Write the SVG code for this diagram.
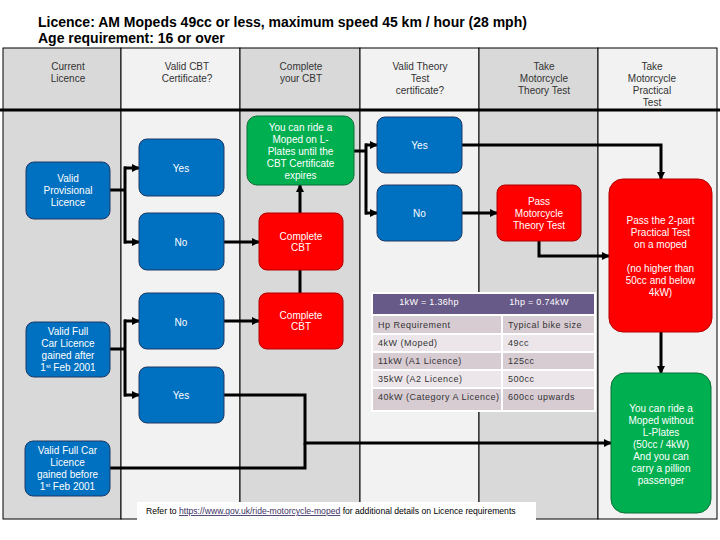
<svg xmlns="http://www.w3.org/2000/svg" width="720" height="540" viewBox="0 0 720 540">
<defs>
<style>
text{font-family:"Liberation Sans",Arial,sans-serif}
.title{font-size:14px;font-weight:bold;fill:#000}
.hd{font-size:10px;fill:#333;text-anchor:middle}
.bt{font-size:10px;fill:#fff;text-anchor:middle}
.blue{fill:#0070c0;stroke:#1f3864;stroke-width:1}
.red{fill:#ff0000;stroke:#b00000;stroke-width:1}
.green{fill:#00b050;stroke:#0a6e35;stroke-width:1}
.laneD{fill:#d9d9d9;stroke:#000;stroke-width:1}
.laneL{fill:#f2f2f2;stroke:#000;stroke-width:1}
.con{fill:none;stroke:#000;stroke-width:3}
.arr{fill:none;stroke:#000;stroke-width:3;marker-end:url(#ah)}
.tt{font-size:9px;fill:#333;letter-spacing:0.5px}
.th{font-size:9px;fill:#fff;text-anchor:middle;letter-spacing:0.3px}
.rd{fill:#d8ccd3}
.rl{fill:#ece6ea}
</style>
<marker id="ah" markerUnits="userSpaceOnUse" markerWidth="8" markerHeight="8" viewBox="0 0 8 8" refX="7" refY="4" orient="auto">
<path d="M0,0 L8,4 L0,8 z" fill="#000"/>
</marker>
</defs>
<rect width="720" height="540" fill="#fff"/>
<text class="title" x="38" y="27">Licence: AM Mopeds 49cc or less, maximum speed 45 km / hour (28 mph)</text>
<text class="title" x="38" y="43">Age requirement: 16 or over</text>

<g id="lanes">
<rect class="laneD" x="3" y="48" width="118" height="471"/>
<rect class="laneL" x="121" y="48" width="119" height="471"/>
<rect class="laneD" x="240" y="48" width="120" height="471"/>
<rect class="laneL" x="360" y="48" width="119" height="471"/>
<rect class="laneD" x="479" y="48" width="119" height="471"/>
<rect class="laneL" x="598" y="48" width="119" height="471"/>
<line x1="0" y1="110" x2="720" y2="110" stroke="#000" stroke-width="3"/>
<text class="hd" x="68" y="70">Current</text><text class="hd" x="68" y="82">Licence</text>
<text class="hd" x="187" y="70">Valid CBT</text><text class="hd" x="187" y="82">Certificate?</text>
<text class="hd" x="301" y="70">Complete</text><text class="hd" x="301" y="82">your CBT</text>
<text class="hd" x="420" y="70">Valid Theory</text><text class="hd" x="420" y="82">Test</text><text class="hd" x="420" y="94">certificate?</text>
<text class="hd" x="544" y="70">Take</text><text class="hd" x="544" y="82">Motorcycle</text><text class="hd" x="544" y="94">Theory Test</text>
<text class="hd" x="652" y="70">Take</text><text class="hd" x="652" y="82">Motorcycle</text><text class="hd" x="652" y="94">Practical</text><text class="hd" x="652" y="106">Test</text>
</g>

<g id="table">
<rect x="371" y="292" width="225" height="120" fill="#fff"/>
<rect x="373" y="294" width="221" height="20" fill="#685a88"/>
<text class="th" x="429" y="304.5">1kW = 1.36hp</text>
<text class="th" x="539" y="304.5">1hp = 0.74kW</text>
<rect class="rd" x="373" y="316" width="128" height="17"/><rect class="rd" x="503" y="316" width="91" height="17"/>
<rect class="rl" x="373" y="335" width="128" height="16"/><rect class="rl" x="503" y="335" width="91" height="16"/>
<rect class="rd" x="373" y="353" width="128" height="16"/><rect class="rd" x="503" y="353" width="91" height="16"/>
<rect class="rl" x="373" y="371" width="128" height="16"/><rect class="rl" x="503" y="371" width="91" height="16"/>
<rect class="rd" x="373" y="389" width="128" height="21"/><rect class="rd" x="503" y="389" width="91" height="21"/>
<text class="tt" x="378" y="328">Hp Requirement</text><text class="tt" x="508" y="328">Typical bike size</text>
<text class="tt" x="378" y="346">4kW (Moped)</text><text class="tt" x="508" y="346">49cc</text>
<text class="tt" x="378" y="364">11kW (A1 Licence)</text><text class="tt" x="508" y="364">125cc</text>
<text class="tt" x="378" y="382">35kW (A2 Licence)</text><text class="tt" x="508" y="382">500cc</text>
<text class="tt" x="378" y="400">40kW (Category A Licence)</text><text class="tt" x="508" y="400">600cc upwards</text>
</g>

<g id="connectors">
<path class="con" d="M110,190 H125 M125,166.5 V243.5"/>
<path class="arr" d="M124,168 H139"/>
<path class="arr" d="M124,242 H139"/>
<path class="arr" d="M224,242 H259"/>
<path class="arr" d="M300,213 V185"/>
<path class="con" d="M300,293 V270"/>
<path class="con" d="M354,151 H366 M366,143.5 V214.5"/>
<path class="arr" d="M365,145 H377"/>
<path class="arr" d="M365,213 H377"/>
<path class="arr" d="M462,145 H661 V179"/>
<path class="arr" d="M462,213 H497"/>
<path class="arr" d="M539,241 V256 H609"/>
<path class="arr" d="M661,332 V373"/>
<path class="con" d="M110,349 H125 M125,319.5 V396.5"/>
<path class="arr" d="M124,321 H139"/>
<path class="arr" d="M124,395 H139"/>
<path class="arr" d="M224,321 H259"/>
<path class="arr" d="M224,395 H305 V443 H611"/>
<path class="con" d="M110,468 H305 V443"/>
</g>

<g id="n-provisional"><rect class="blue" x="26" y="162" width="84" height="57" rx="8"/>
<text class="bt" x="68" y="181.5">Valid</text><text class="bt" x="68" y="193.5">Provisional</text><text class="bt" x="68" y="205.5">Licence</text></g>
<g id="n-yes1"><rect class="blue" x="139" y="139" width="85" height="57" rx="8"/><text class="bt" x="181" y="171.5">Yes</text></g>
<g id="n-no1"><rect class="blue" x="139" y="213" width="85" height="57" rx="8"/><text class="bt" x="181" y="245.5">No</text></g>
<g id="n-cbt1"><rect class="red" x="259" y="213" width="84" height="57" rx="8"/>
<text class="bt" x="301" y="239.5">Complete</text><text class="bt" x="301" y="251">CBT</text></g>
<g id="n-lplates"><rect class="green" x="247" y="116" width="107" height="69" rx="10"/>
<text class="bt" x="300.5" y="130.5">You can ride a</text><text class="bt" x="300.5" y="142.5">Moped on L-</text><text class="bt" x="300.5" y="154.5">Plates until the</text><text class="bt" x="300.5" y="166.5">CBT Certificate</text><text class="bt" x="300.5" y="178.5">expires</text></g>
<g id="n-theory-yes"><rect class="blue" x="377" y="117" width="85" height="56" rx="8"/><text class="bt" x="419.5" y="148.5">Yes</text></g>
<g id="n-theory-no"><rect class="blue" x="377" y="185" width="85" height="56" rx="8"/><text class="bt" x="419.5" y="216.5">No</text></g>
<g id="n-pass-theory"><rect class="red" x="497" y="185" width="84" height="56" rx="8"/>
<text class="bt" x="539" y="204.5">Pass</text><text class="bt" x="539" y="216.5">Motorcycle</text><text class="bt" x="539" y="228.5">Theory Test</text></g>
<g id="n-practical"><rect class="red" x="609" y="179" width="103" height="153" rx="14"/>
<text class="bt" x="660.5" y="223.5">Pass the 2-part</text><text class="bt" x="660.5" y="235.5">Practical Test</text><text class="bt" x="660.5" y="247.5">on a moped</text>
<text class="bt" x="660.5" y="271.5">(no higher than</text><text class="bt" x="660.5" y="283.5">50cc and below</text><text class="bt" x="660.5" y="295.5">4kW)</text></g>
<g id="n-car-after"><rect class="blue" x="26" y="322" width="84" height="55" rx="8"/>
<text class="bt" x="68" y="334.5">Valid  Full</text><text class="bt" x="68" y="346.5">Car Licence</text><text class="bt" x="68" y="358.5">gained after</text>
<text class="bt" x="68" y="370.5">1<tspan font-size="6" dy="-3">st</tspan><tspan dy="3"> Feb 2001</tspan></text></g>
<g id="n-no2"><rect class="blue" x="139" y="293" width="85" height="56" rx="8"/><text class="bt" x="181" y="325.5">No</text></g>
<g id="n-cbt2"><rect class="red" x="259" y="293" width="84" height="56" rx="8"/>
<text class="bt" x="301" y="318.5">Complete</text><text class="bt" x="301" y="330">CBT</text></g>
<g id="n-yes2"><rect class="blue" x="139" y="367" width="85" height="56" rx="8"/><text class="bt" x="181" y="398.5">Yes</text></g>
<g id="n-car-before"><rect class="blue" x="25" y="441" width="85" height="55" rx="8"/>
<text class="bt" x="67.5" y="453.5">Valid  Full Car</text><text class="bt" x="67.5" y="465.5">Licence</text><text class="bt" x="67.5" y="477.5">gained before</text>
<text class="bt" x="67.5" y="489.5">1<tspan font-size="6" dy="-3">st</tspan><tspan dy="3"> Feb 2001</tspan></text></g>
<g id="n-no-lplates"><rect class="green" x="611" y="373" width="100" height="140" rx="14"/>
<text class="bt" x="661" y="411.5">You can ride a</text><text class="bt" x="661" y="423.5">Moped without</text><text class="bt" x="661" y="435.5">L-Plates</text><text class="bt" x="661" y="447.5">(50cc / 4kW)</text><text class="bt" x="661" y="459.5">And you can</text><text class="bt" x="661" y="471.5">carry a pillion</text><text class="bt" x="661" y="483.5">passenger</text></g>

<g id="footer">
<rect x="137" y="502" width="399" height="19" fill="#fff"/>
<text x="146" y="514" font-size="8.6" fill="#000">Refer to <tspan fill="#3b2f63" text-decoration="underline">https://www.gov.uk/ride-motorcycle-moped</tspan> for additional details on Licence requirements</text>
</g>
</svg>
